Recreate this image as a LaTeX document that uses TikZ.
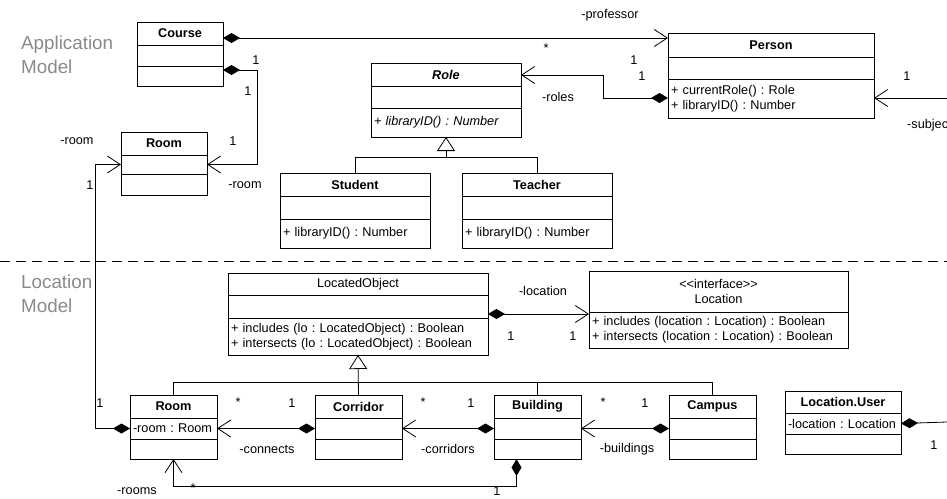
\documentclass[tikz,border=0pt]{standalone}
\usepackage{fontspec}
\setmainfont{Liberation Sans}[Ligatures=TeXOff]
\usepackage{xcolor}
\usetikzlibrary{arrows.meta,positioning}

\definecolor{areagray}{RGB}{138,138,138}
\frenchspacing

\begin{document}
\begin{tikzpicture}[x=1pt,y=-1pt,
    part/.style={draw, line width=0.8pt, inner xsep=3pt, inner ysep=0pt, outer sep=0pt,
      font=\fontsize{12.7}{15}\selectfont},
    head/.style={part, align=center},
    body/.style={part, align=left},
    lbl/.style={inner sep=0pt, font=\fontsize{12.7}{15}\selectfont},
    area/.style={inner sep=0pt, align=left, text=areagray, anchor=west,
      font=\fontsize{18.8}{23.5}\selectfont},
    conn/.style={line width=0.8pt},
    assoc/.style={conn, -{Straight Barb[length=13pt,width=17pt]}},
    comp/.style={conn, {Diamond[length=17pt,width=10pt]}-{Straight Barb[length=13pt,width=17pt]}},
    compend/.style={conn, {Diamond[length=17pt,width=10pt]}-},
    inh/.style={conn, -{Triangle[open,length=14pt,width=18pt]}}]

  \useasboundingbox (0,0) rectangle (947,498);

  % areas
  \node[area] (appArea) at (21,55) {Application\\Model};
  \node[area] (locArea) at (21,294) {Location\\Model};
  \coordinate (sepL) at (0,261);
  \coordinate (sepR) at (947,261);
  \draw[conn, dash pattern=on 10pt off 6pt] (sepL) -- (sepR);

  % application model classes
  \node[head, anchor=north west, text width=80pt, minimum height=23pt] (courseH) at (137,22) {\textbf{Course}};
  \node[body, text width=80pt, minimum height=21pt, below=0pt of courseH] (courseA) {};
  \node[body, text width=80pt, minimum height=20pt, below=0pt of courseA] (courseO) {};

  \node[head, anchor=north west, text width=200pt, minimum height=24pt] (personH) at (668,33) {\textbf{Person}};
  \node[body, text width=200pt, minimum height=22pt, below=0pt of personH] (personA) {};
  \node[body, text width=200pt, minimum height=39pt, below=0pt of personA] (personO)
    {+ currentRole() : Role\\+ libraryID() : Number};

  \node[head, anchor=north west, text width=144pt, minimum height=23pt] (roleH) at (371,63) {\textbf{\textit{Role}}};
  \node[body, text width=144pt, minimum height=22pt, below=0pt of roleH] (roleA) {};
  \node[body, text width=144pt, minimum height=29pt, below=0pt of roleA] (roleO) {\textit{+ libraryID() : Number}};

  \node[head, anchor=north west, text width=80pt, minimum height=23pt] (roomH) at (121,132) {\textbf{Room}};
  \node[body, text width=80pt, minimum height=19pt, below=0pt of roomH] (roomA) {};
  \node[body, text width=80pt, minimum height=21pt, below=0pt of roomA] (roomO) {};

  \node[head, anchor=north west, text width=144pt, minimum height=23pt] (studentH) at (280,173) {\textbf{Student}};
  \node[body, text width=144pt, minimum height=23pt, below=0pt of studentH] (studentA) {};
  \node[body, text width=144pt, minimum height=29pt, below=0pt of studentA] (studentO) {+ libraryID() : Number};

  \node[head, anchor=north west, text width=144pt, minimum height=23pt] (teacherH) at (462,173) {\textbf{Teacher}};
  \node[body, text width=144pt, minimum height=23pt, below=0pt of teacherH] (teacherA) {};
  \node[body, text width=144pt, minimum height=29pt, below=0pt of teacherA] (teacherO) {+ libraryID() : Number};

  % location model classes
  \node[head, anchor=north west, text width=254pt, minimum height=22pt] (loH) at (228,273) {LocatedObject};
  \node[body, text width=254pt, minimum height=23pt, below=0pt of loH] (loA) {};
  \node[body, text width=254pt, minimum height=37pt, below=0pt of loA] (loO)
    {+ includes (lo : LocatedObject) : Boolean\\+ intersects (lo : LocatedObject) : Boolean};

  \node[head, anchor=north west, text width=253pt, minimum height=41pt] (locH) at (589,271) {<<interface>>\\Location};
  \node[body, text width=253pt, minimum height=36pt, below=0pt of locH] (locO)
    {+ includes (location : Location) : Boolean\\+ intersects (location : Location) : Boolean};

  \node[head, anchor=north west, text width=81pt, minimum height=23pt] (roomBH) at (130,395) {\textbf{Room}};
  \node[body, text width=81pt, minimum height=21pt, below=0pt of roomBH] (roomBA) {\mbox{-room : Room}};
  \node[body, text width=81pt, minimum height=20pt, below=0pt of roomBA] (roomBO) {};

  \node[head, anchor=north west, text width=81pt, minimum height=23pt] (corridorH) at (315,395) {\textbf{Corridor}};
  \node[body, text width=81pt, minimum height=21pt, below=0pt of corridorH] (corridorA) {};
  \node[body, text width=81pt, minimum height=20pt, below=0pt of corridorA] (corridorO) {};

  \node[head, anchor=north west, text width=81pt, minimum height=23pt] (buildingH) at (494,395) {\textbf{Building}};
  \node[body, text width=81pt, minimum height=21pt, below=0pt of buildingH] (buildingA) {};
  \node[body, text width=81pt, minimum height=20pt, below=0pt of buildingA] (buildingO) {};

  \node[head, anchor=north west, text width=81pt, minimum height=23pt] (campusH) at (669,395) {\textbf{Campus}};
  \node[body, text width=81pt, minimum height=21pt, below=0pt of campusH] (campusA) {};
  \node[body, text width=81pt, minimum height=20pt, below=0pt of campusA] (campusO) {};

  \node[head, anchor=north west, text width=110pt, minimum height=22pt] (userH) at (785,391) {\textbf{Location.User}};
  \node[body, text width=110pt, minimum height=21pt, below=0pt of userH] (userA) {\mbox{-location : Location}};
  \node[body, text width=110pt, minimum height=20pt, below=0pt of userA] (userO) {};

  % application model connectors
  \draw[comp] ([yshift=-16pt]courseH.north east) -- ([yshift=-5pt]personH.north west);
  \draw[comp] ([yshift=-4pt]courseO.north east) -- ++(34,0) |- (roomA.east);
  \draw[comp] ([yshift=-19pt]personO.north west) -- ++(-65,0) |- ([yshift=-12pt]roleH.north east);
  \coordinate (subj) at (947,98);
  \draw[assoc] (subj) -- ([yshift=-19pt]personO.north east);
  \draw[conn] (studentH.north) -- ++(0,-16) -| (teacherH.north);
  \draw[inh] ([yshift=-20pt]roleO.south) -- (roleO.south);

  % location model connectors
  \draw[comp] ([yshift=-19pt]loA.north east) -- ([yshift=-2pt]locO.north west);
  \draw[conn] (roomBH.north) -- ++(0,-13) -| (campusH.north);
  \draw[conn] (buildingH.north) -- ++(0,-13);
  \draw[inh] (corridorH.north) -- (loO.south);
  \draw[comp] (roomBA.west) -- ++(-35,0) |- (roomA.west);
  \draw[comp] (corridorA.west) -- (roomBA.east);
  \draw[comp] (buildingA.west) -- (corridorA.east);
  \draw[comp] (campusA.west) -- (buildingA.east);
  \draw[comp] ([xshift=-21pt]buildingO.south) -- ++(0,27) -| (roomBO.south);
  \coordinate (userEnd) at (947,422);
  \draw[compend] (userA.east) -- (userEnd);

  % role names and multiplicities
  \node[lbl] (lProf) at (610,15) {-professor};
  \node[lbl] (lProfA) at (546,48) {*};
  \node[lbl] (lProfB) at (634,60) {1};
  \node[lbl] (lRolesB) at (642,76) {1};
  \node[lbl] (lRoles) at (558,97) {-roles};
  \node[lbl] (lSubjB) at (907,76) {1};
  \node[lbl, anchor=west] (lSubj) at (907,125) {-subject};
  \node[lbl] (lCrsA) at (256,60) {1};
  \node[lbl] (lCrsB) at (248,91) {1};
  \node[lbl] (lRoomB) at (233,141) {1};
  \node[lbl] (lRoom) at (245,185) {-room};
  \node[lbl] (lRoomL) at (77,141) {-room};
  \node[lbl] (lRoomLB) at (90,185) {1};
  \node[lbl] (lRoomLA) at (100,403) {1};
  \node[lbl] (lLoc) at (543,291) {-location};
  \node[lbl] (lLocA) at (511,336) {1};
  \node[lbl] (lLocB) at (573,336) {1};
  \node[lbl] (lConA) at (238,402) {*};
  \node[lbl] (lConB) at (292,403) {1};
  \node[lbl] (lCon) at (267,449) {-connects};
  \node[lbl] (lCorA) at (423,402) {*};
  \node[lbl] (lCorB) at (471,403) {1};
  \node[lbl] (lCor) at (448,449) {-corridors};
  \node[lbl] (lBldA) at (603,402) {*};
  \node[lbl] (lBldB) at (645,403) {1};
  \node[lbl] (lBld) at (627,449) {-buildings};
  \node[lbl] (lRmsB) at (497,491) {1};
  \node[lbl] (lRmsA) at (193,488) {*};
  \node[lbl] (lRms) at (137,491) {-rooms};
  \node[lbl] (lUser) at (934,445) {1};
\end{tikzpicture}
\end{document}
